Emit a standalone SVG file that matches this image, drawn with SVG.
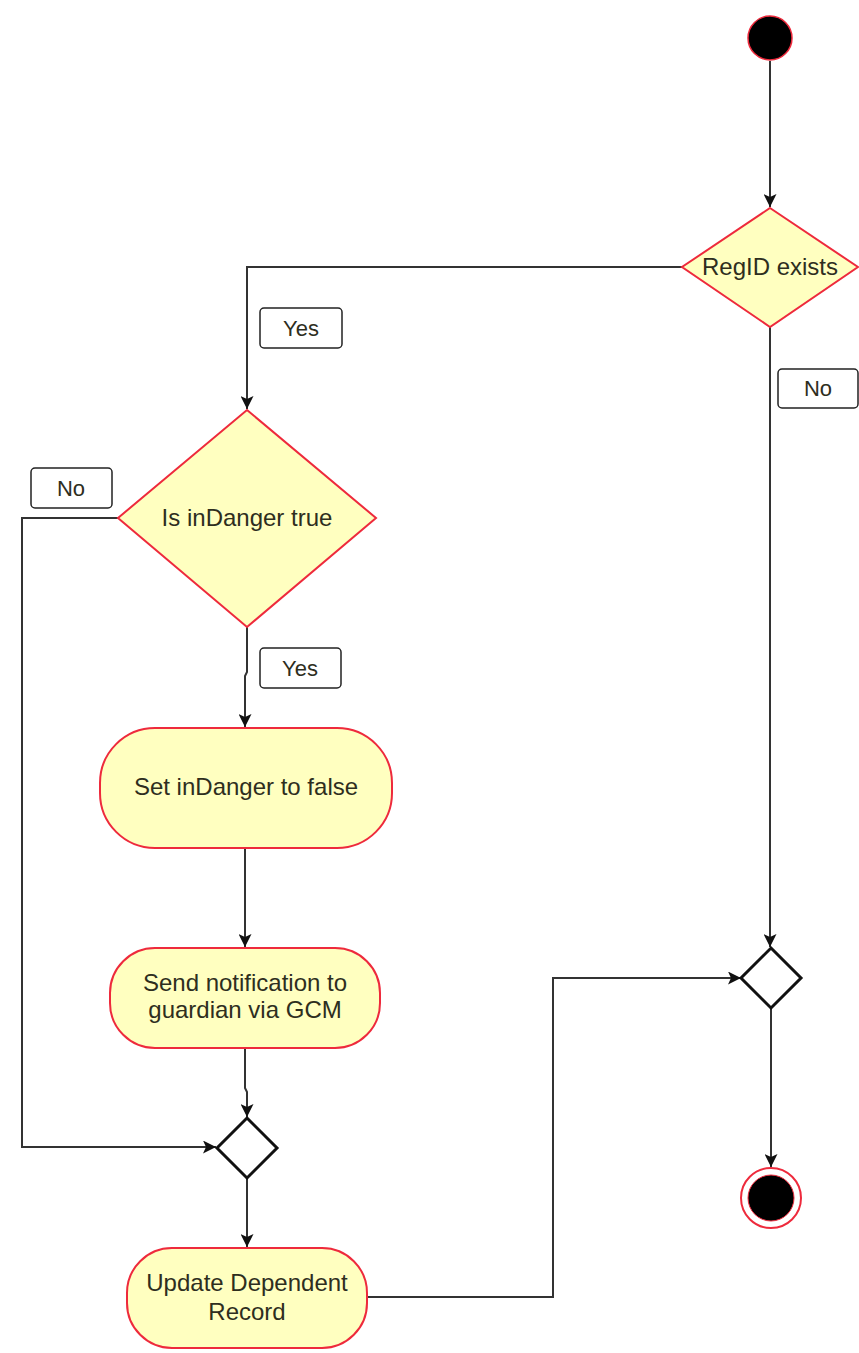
<svg xmlns="http://www.w3.org/2000/svg" width="859" height="1353" viewBox="0 0 859 1353">
  <style>
    .txt { font-family: "Liberation Sans", Arial, sans-serif; font-size: 24px; fill: #2e2e1e; text-anchor: middle; }
    .lbl text { font-size: 22px; }
    .act { fill: #ffffc0; stroke: #ee2a3c; stroke-width: 2; }
    .merge { fill: #ffffff; stroke: #111111; stroke-width: 3; }
    .edge { fill: none; stroke: #333333; stroke-width: 2; marker-end: url(#arrow); }
    .lbl rect { fill: #ffffff; stroke: #222222; stroke-width: 1.5; }
  </style>
  <defs>
    <marker id="arrow" viewBox="0 0 13 13" refX="13" refY="6.5" markerWidth="13" markerHeight="13" markerUnits="userSpaceOnUse" orient="auto">
      <path d="M0,0 L13,6.5 L0,13 L3,6.5 Z" fill="#111111"/>
    </marker>
  </defs>
  <rect width="859" height="1353" fill="#ffffff"/>

  <!-- connectors -->
  <g id="connectors">
    <path class="edge" d="M770,61 V207"/>
    <path class="edge" d="M682,267 H247 V409"/>
    <path class="edge" d="M770,327 V947"/>
    <path class="edge" d="M118,518 H22 V1147 H216"/>
    <path class="edge" d="M247,627 V672 L245,676 V727"/>
    <path class="edge" d="M245,848 V947"/>
    <path class="edge" d="M245,1048 V1088 L247,1092 V1117"/>
    <path class="edge" d="M247,1178 V1247"/>
    <path class="edge" d="M367,1297 H553 V978 H741"/>
    <path class="edge" d="M771,1008 V1167"/>
  </g>

  <!-- edge labels -->
  <g id="label-yes-1" class="lbl">
    <rect x="260" y="308" width="82" height="40" rx="4"/>
    <text class="txt" x="301" y="336">Yes</text>
  </g>
  <g id="label-no-right" class="lbl">
    <rect x="778" y="369" width="80" height="39" rx="4"/>
    <text class="txt" x="818" y="396">No</text>
  </g>
  <g id="label-no-left" class="lbl">
    <rect x="31" y="468" width="81" height="40" rx="4"/>
    <text class="txt" x="71" y="496">No</text>
  </g>
  <g id="label-yes-2" class="lbl">
    <rect x="260" y="648" width="81" height="40" rx="4"/>
    <text class="txt" x="300" y="676">Yes</text>
  </g>

  <!-- nodes -->
  <g id="start">
    <circle cx="770" cy="38" r="22" fill="#000000" stroke="#ee2a3c" stroke-width="1.5"/>
  </g>
  <g id="regid-exists">
    <polygon class="act" points="770,208 858,267 770,327 682,267"/>
    <text class="txt" x="770" y="275">RegID exists</text>
  </g>
  <g id="is-in-danger">
    <polygon class="act" points="247,410 376,518 247,627 118,518"/>
    <text class="txt" x="247" y="526">Is inDanger true</text>
  </g>
  <g id="set-in-danger">
    <rect class="act" x="100" y="728" width="292" height="120" rx="55" ry="55"/>
    <text class="txt" x="246" y="795">Set inDanger to false</text>
  </g>
  <g id="send-notification">
    <rect class="act" x="110" y="948" width="270" height="100" rx="45" ry="45"/>
    <text class="txt" x="245" y="991">Send notification to</text>
    <text class="txt" x="245" y="1018">guardian via GCM</text>
  </g>
  <g id="merge-left">
    <polygon class="merge" points="247,1118 277,1148 247,1178 217,1148"/>
  </g>
  <g id="update-record">
    <rect class="act" x="127" y="1248" width="240" height="100" rx="45" ry="45"/>
    <text class="txt" x="247" y="1291">Update Dependent</text>
    <text class="txt" x="247" y="1320">Record</text>
  </g>
  <g id="merge-right">
    <polygon class="merge" points="771,948 801,978 771,1008 741,978"/>
  </g>
  <g id="end">
    <circle cx="771" cy="1198" r="30" fill="#ffffff" stroke="#ee2a3c" stroke-width="2"/>
    <circle cx="771" cy="1198" r="23" fill="#000000" stroke="#ee2a3c" stroke-width="1"/>
  </g>
</svg>
